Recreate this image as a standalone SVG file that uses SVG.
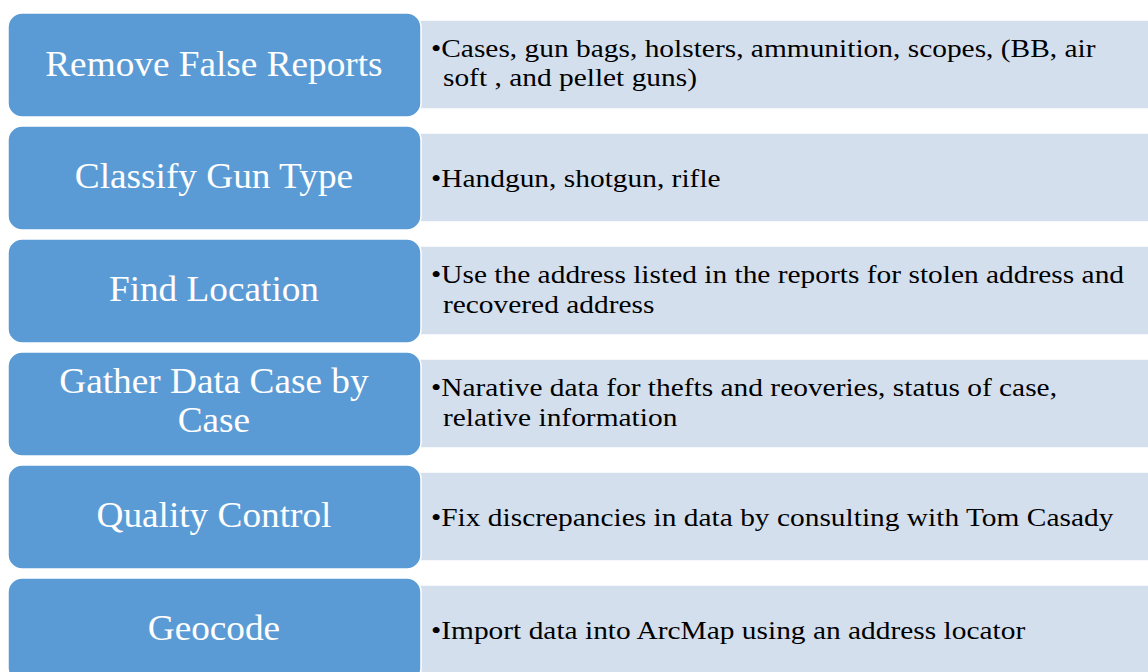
<svg xmlns="http://www.w3.org/2000/svg" width="1148" height="672" viewBox="0 0 1148 672">
<defs>
<style>
.l{fill:#5B9BD5;stroke:#fff;stroke-width:1.5}
.r{fill:#D4DFEE;stroke:#fff;stroke-width:1.5}
</style>
</defs>
<rect width="1148" height="672" fill="#fff"/>
<g id="row1">
<rect class="r" x="405" y="20" width="750" height="89"/>
<rect class="l" x="8" y="13" width="413" height="104" rx="14"/>
<g transform="scale(1.065,1)" font-family="Liberation Serif" font-size="35" fill="#fff" text-anchor="middle"><text x="200.9" y="76">Remove False Reports</text></g>
<g transform="scale(1.132,1)" font-family="Liberation Serif" font-size="26" fill="#000"><text x="380.7" y="57">•Cases, gun bags, holsters, ammunition, scopes, (BB, air</text><text x="391.3" y="86">soft , and pellet guns)</text></g>
</g>
<g id="row2">
<rect class="r" x="405" y="133" width="750" height="89"/>
<rect class="l" x="8" y="126" width="413" height="104" rx="14"/>
<g transform="scale(1.065,1)" font-family="Liberation Serif" font-size="35" fill="#fff" text-anchor="middle"><text x="200.9" y="188">Classify Gun Type</text></g>
<g transform="scale(1.132,1)" font-family="Liberation Serif" font-size="26" fill="#000"><text x="380.7" y="187">•Handgun, shotgun, rifle</text></g>
</g>
<g id="row3">
<rect class="r" x="405" y="246" width="750" height="89"/>
<rect class="l" x="8" y="239" width="413" height="104" rx="14"/>
<g transform="scale(1.065,1)" font-family="Liberation Serif" font-size="35" fill="#fff" text-anchor="middle"><text x="200.9" y="301">Find Location</text></g>
<g transform="scale(1.132,1)" font-family="Liberation Serif" font-size="26" fill="#000"><text x="380.7" y="283">•Use the address listed in the reports for stolen address and</text><text x="391.3" y="313">recovered address</text></g>
</g>
<g id="row4">
<rect class="r" x="405" y="359" width="750" height="89"/>
<rect class="l" x="8" y="352" width="413" height="104" rx="14"/>
<g transform="scale(1.065,1)" font-family="Liberation Serif" font-size="35" fill="#fff" text-anchor="middle"><text x="200.9" y="393">Gather Data Case by</text><text x="200.9" y="432">Case</text></g>
<g transform="scale(1.132,1)" font-family="Liberation Serif" font-size="26" fill="#000"><text x="380.7" y="396">•Narative data for thefts and reoveries, status of case,</text><text x="391.3" y="426">relative information</text></g>
</g>
<g id="row5">
<rect class="r" x="405" y="472" width="750" height="89"/>
<rect class="l" x="8" y="465" width="413" height="104" rx="14"/>
<g transform="scale(1.065,1)" font-family="Liberation Serif" font-size="35" fill="#fff" text-anchor="middle"><text x="200.9" y="527">Quality Control</text></g>
<g transform="scale(1.132,1)" font-family="Liberation Serif" font-size="26" fill="#000"><text x="380.7" y="526">•Fix discrepancies in data by consulting with Tom Casady</text></g>
</g>
<g id="row6">
<rect class="r" x="405" y="585" width="750" height="89"/>
<rect class="l" x="8" y="578" width="413" height="104" rx="14"/>
<g transform="scale(1.065,1)" font-family="Liberation Serif" font-size="35" fill="#fff" text-anchor="middle"><text x="200.9" y="640">Geocode</text></g>
<g transform="scale(1.132,1)" font-family="Liberation Serif" font-size="26" fill="#000"><text x="380.7" y="639">•Import data into ArcMap using an address locator</text></g>
</g>
<g id="connectors"/>
</svg>
